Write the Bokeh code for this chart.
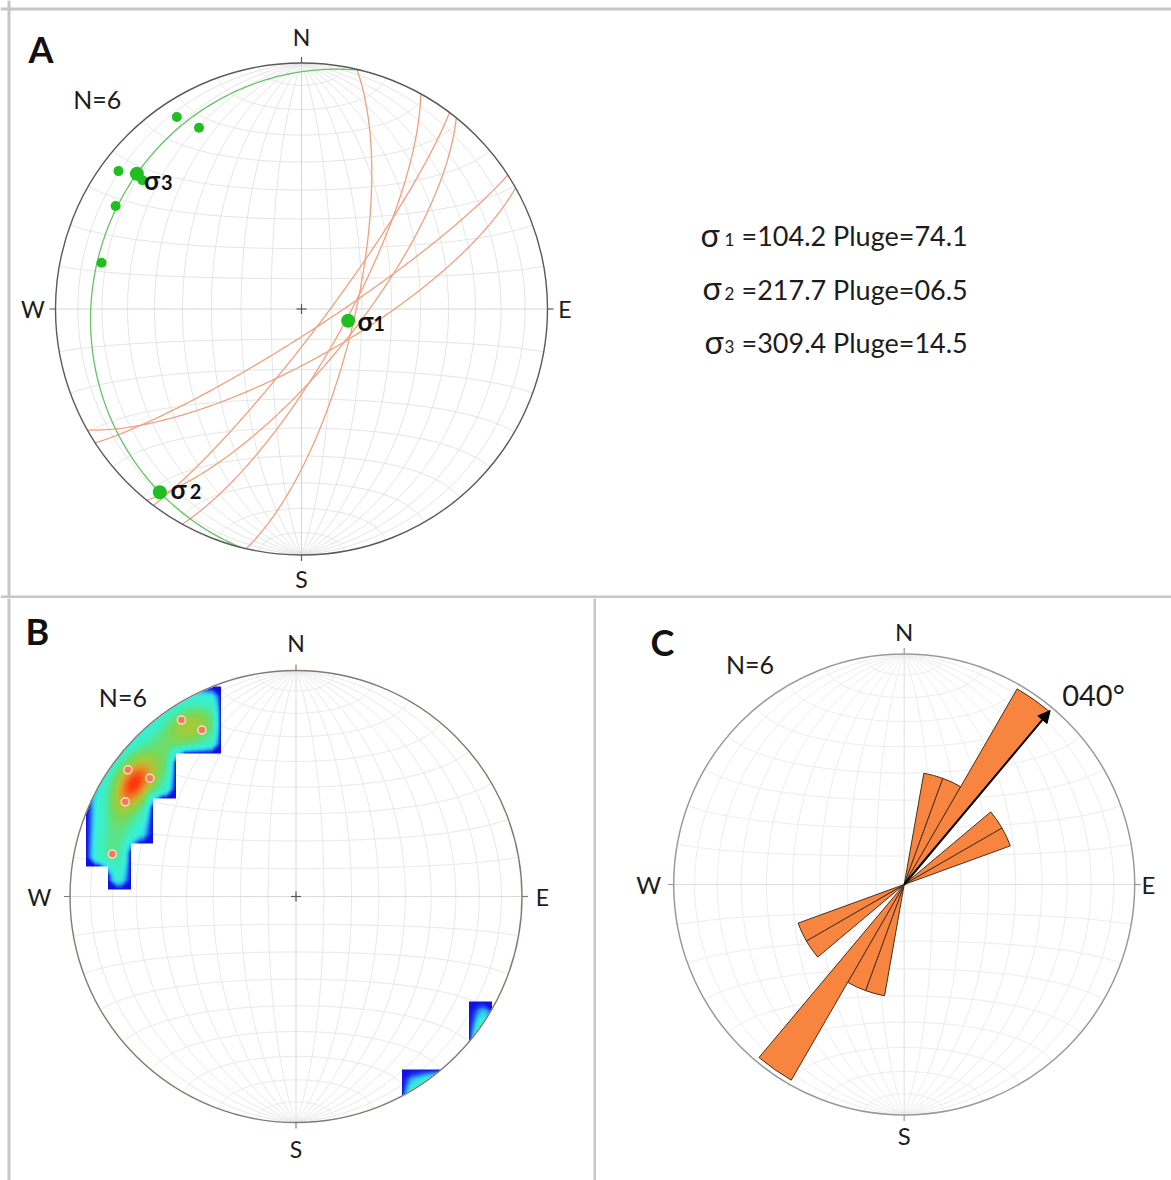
import numpy as np
from bokeh.plotting import figure
from bokeh.layouts import column, row
from bokeh.models import Range1d, Span, LinearColorMapper, Arrow, NormalHead
from bokeh.core.properties import value
from bokeh.embed import file_html
from bokeh.resources import INLINE

# ---------------- data ----------------
plane_dipdir = [147.0, 150.5, 127.0, 129.0, 119.0, 103.0]   # dip direction of the 6 planes
plane_dip = [82.3, 73.5, 82.4, 72.1, 75.3, 72.3]            # dip of the 6 planes
sigma_labels = ["1", "2", "3"]
sigma_trend = [104.2, 217.7, 309.4]
sigma_plunge = [74.1, 6.5, 14.5]
mean_strike = 40.0
rose_bin_width = 10
compass_labels = ["N", "E", "S", "W"]
compass_azimuth = [0.0, 90.0, 180.0, 270.0]
net_step = 10

FONT = value("Lato")
TXT = "#1c1c1c"
BORDER = "#c6c6c6"
MID = 0.38  # em-middle above baseline


# ---------------- projection helpers (equal-area, lower hemisphere) ----------------
def line_vec(trend, plunge):
    t = np.radians(trend)
    pl = np.radians(plunge)
    return np.array([np.sin(t) * np.cos(pl), np.cos(t) * np.cos(pl), -np.sin(pl)])


def project(v):
    e, n, u = v
    u = np.minimum(u, 0.0)
    f = 1.0 / np.sqrt(1.0 - u)
    return e * f, n * f


def great_circle(pole, num=241):
    n = pole / np.linalg.norm(pole)
    s = np.array([n[1], -n[0], 0.0])
    if np.linalg.norm(s) < 1e-9:
        s = np.array([1.0, 0.0, 0.0])
    s = s / np.linalg.norm(s)
    b = np.cross(n, s)
    if b[2] > 0:
        b = -b
    a = np.linspace(0, np.pi, num)
    v = np.outer(s, np.cos(a)) + np.outer(b, np.sin(a))
    return project(v)


def small_circle_ns(c_deg, sign, num=181):
    c = np.radians(c_deg)
    phi = np.linspace(0, np.pi, num)
    ax = np.array([0.0, sign, 0.0])
    v = (np.cos(c) * ax[:, None]
         + np.sin(c) * (np.outer([1.0, 0.0, 0.0], np.cos(phi)) + np.outer([0.0, 0.0, -1.0], np.sin(phi))))
    return project(v)


pole_trend = [(d + 180.0) % 360.0 for d in plane_dipdir]
pole_plunge = [90.0 - d for d in plane_dip]
poles = np.array([line_vec(t, p) for t, p in zip(pole_trend, pole_plunge)])
pole_x, pole_y = project(poles.T)
sig_vecs = np.array([line_vec(t, p) for t, p in zip(sigma_trend, sigma_plunge)])
sig_x, sig_y = project(sig_vecs.T)


# ---------------- panel helpers ----------------
def make_panel(w, h, left, top, cx, cy, R):
    fx, fy = cx - left, cy - top
    p = figure(width=w, height=h,
               x_range=Range1d(-fx / R, (w - fx) / R),
               y_range=Range1d(-(h - fy) / R, fy / R),
               x_axis_type=None, y_axis_type=None, toolbar_location=None,
               output_backend="svg", min_border=0, outline_line_color=None,
               background_fill_color="white", border_fill_color="white")

    def to_data(px, py):
        return (px - cx) / R, (cy - py) / R
    return p, to_data


def add_text(p, to_data, px, py_mid, txt, size, bold=False, align="left", color=TXT):
    x, y = to_data(px, py_mid)
    p.text(x=[x], y=[y], text=[txt], text_font=FONT, text_font_size=f"{size}px",
           text_font_style="bold" if bold else "normal", text_align=align,
           text_baseline="middle", text_color=color)


def add_border(p, to_data, xs=(), ys=()):
    for px in xs:
        p.add_layout(Span(location=to_data(px, 0)[0], dimension="height",
                          line_color=BORDER, line_width=3))
    for py in ys:
        p.add_layout(Span(location=to_data(0, py)[1], dimension="width",
                          line_color=BORDER, line_width=3))


def draw_net(p, R, grid_color, axis_color):
    xs, ys = [], []
    for d in range(net_step, 90, net_step):
        for tr in (90.0, 270.0):
            x, y = great_circle(line_vec(tr, 90.0 - d))
            xs.append(x)
            ys.append(y)
        for sg in (1.0, -1.0):
            x, y = small_circle_ns(d, sg)
            xs.append(x)
            ys.append(y)
    p.multi_line(xs, ys, line_color=grid_color, line_width=1)
    axx, axy = [], []
    for tr in (90.0, 0.0):
        x, y = great_circle(line_vec(tr, 0.0))
        axx.append(x)
        axy.append(y)
    p.multi_line(axx, axy, line_color=axis_color, line_width=1)


def draw_rim(p, R, rim_color, rim_width, tick_px=6):
    p.circle(x=[0.0], y=[0.0], radius=1.0, fill_color=None, line_color=rim_color,
             line_width=rim_width)
    az = np.radians(compass_azimuth)
    t = tick_px / R
    p.segment(x0=np.sin(az), y0=np.cos(az), x1=np.sin(az) * (1 + t), y1=np.cos(az) * (1 + t),
              line_color=rim_color, line_width=1.2)


def draw_cross(p, R, half_px=5, color="#555555"):
    h = half_px / R
    p.segment(x0=[-h, 0.0], y0=[0.0, -h], x1=[h, 0.0], y1=[0.0, h], line_color=color, line_width=1.2)


def draw_compass(p, R, offsets, size):
    for lab, az, off in zip(compass_labels, compass_azimuth, offsets):
        r = 1 + off / R
        x = r * np.sin(np.radians(az))
        y = r * np.cos(np.radians(az))
        p.text(x=[x], y=[y], text=[lab], text_font=FONT, text_font_size=f"{size}px",
               text_align="center", text_baseline="middle", text_color=TXT)


n_text = f"N={len(plane_dip)}"

# ================= Panel A =================
RA = 246.0
pA, tdA = make_panel(1171, 598, 0, 0, 301.0, 308.5, RA)
draw_net(pA, RA, "#e4e4e4", "#d2d2d2")
gx, gy = [], []
for pv in poles:
    x, y = great_circle(pv)
    gx.append(x)
    gy.append(y)
pA.multi_line(gx, gy, line_color="#f2a07c", line_width=1.3)
x, y = great_circle(sig_vecs[0])
pA.line(x, y, line_color="#62c462", line_width=1.3)
draw_rim(pA, RA, "#5a5a5a", 1.4)
draw_cross(pA, RA)
pA.scatter(pole_x, pole_y, size=10, fill_color="#1fbf1f", line_color=None)
pA.scatter(sig_x, sig_y, size=14, fill_color="#1fbf1f", line_color=None)
# sigma labels (offsets in screen px: sigma glyph dx, baseline dy, digit dx)
sig_lab_off = [(9.3, 10.0, 25.0), (10.7, 6.5, 29.8), (7.0, 16.4, 24.0)]
for sx, sy, lab, (dx, dy, ddx) in zip(sig_x, sig_y, sigma_labels, sig_lab_off):
    pA.text(x=[sx + dx / RA], y=[sy - (dy - MID * 26) / RA], text=["σ"], text_font=FONT,
            text_font_size="26px", text_font_style="bold", text_align="left",
            text_baseline="middle", text_color="#111111")
    pA.text(x=[sx + ddx / RA], y=[sy - (dy - MID * 20) / RA], text=[lab], text_font=FONT,
            text_font_size="20px", text_font_style="bold", text_align="left",
            text_baseline="middle", text_color="#111111")
draw_compass(pA, RA, [26.5, 17.5, 23.5, 22.5], 23)
add_text(pA, tdA, 28, 48.5, "A", 36, bold=True, color="#111111")
add_text(pA, tdA, 72.7, 98, n_text, 25)
row_center = [236.0, 289.5, 343.0]
row_sig_x = [700.0, 702.0, 704.0]
for lab, tr, pl, cyr, sxp in zip(sigma_labels, sigma_trend, sigma_plunge, row_center, row_sig_x):
    base = cyr + 0.36 * 27
    add_text(pA, tdA, sxp, base - MID * 32, "σ", 32)
    add_text(pA, tdA, 724.0, base - MID * 17, lab, 17)
    add_text(pA, tdA, 741.0, base - MID * 27, f"={tr:.1f} Pluge={pl:04.1f}", 27)
add_border(pA, tdA, xs=(8.5,), ys=(8.5, 596.5))

# ================= Panel B =================
RB = 226.0
pB, tdB = make_panel(596, 582, 0, 598, 295.5, 896.0, RB)
draw_net(pB, RB, "#e8e8e8", "#d8d8d8")


def sphere_density(X, Y, k):
    r = np.sqrt(X ** 2 + Y ** 2)
    s = np.where(r > 1, 1.0 / np.maximum(r, 1e-12), 1.0)
    Xs, Ys = X * s, Y * s
    u = np.minimum(r ** 2, 1.0) - 1.0
    f = np.sqrt(1.0 - u)
    V = np.stack([Xs * f, Ys * f, u], -1)
    c = V @ poles.T
    return (np.exp(k * (c - 1.0)) + np.exp(k * (-c - 1.0))).sum(-1)


def planar_density(X, Y, sig):
    tot = np.zeros_like(X)
    for px, py in zip(pole_x, pole_y):
        r = np.hypot(px, py)
        vx, vy = -px / r * (2 - r), -py / r * (2 - r)   # wrapped (antipodal) image beyond the rim
        tot += np.exp(-((X - px) ** 2 + (Y - py) ** 2) / (2 * sig ** 2))
        tot += np.exp(-((X - vx) ** 2 + (Y - vy) ** 2) / (2 * sig ** 2))
    return tot


def box_blur(a, rad):
    ker = np.ones(2 * rad + 1) / (2 * rad + 1)
    a = np.apply_along_axis(lambda m: np.convolve(m, ker, mode="same"), 0, a)
    return np.apply_along_axis(lambda m: np.convolve(m, ker, mode="same"), 1, a)


n_fine = 452
g = np.linspace(-1, 1, n_fine)
X, Y = np.meshgrid(g, g)
# blocky contour extent: density tested at coarse cell centres (rim cells tested just inside)
cs, x_off, y_off = 0.1, -0.732, 0.633
CX = x_off + (np.floor((X - x_off) / cs) + 0.5) * cs
CY = y_off + (np.floor((Y - y_off) / cs) + 0.5) * cs
rc = np.hypot(CX, CY)
shrink = np.where(rc > 0.97, 0.97 / np.maximum(rc, 1e-12), 1.0)
cell_mask = planar_density(CX * shrink, CY * shrink, 19.0 / RB) > 0.345
inside = X ** 2 + Y ** 2 <= 1.0
mask = inside & cell_mask
edge = np.clip((box_blur(cell_mask.astype(float), 9) - 0.5) / 0.5, 0, 1)
dcol = sphere_density(X, Y, 60.0)
lo_v = float(dcol[mask].min())
val = lo_v + edge * (dcol - lo_v)
img = np.where(mask, val, np.nan)

anchors = [(0.0, "#1010e0"), (0.04, "#1e46f0"), (0.09, "#2a96f2"), (0.15, "#30d0ee"),
           (0.24, "#36f0d8"), (0.42, "#40eebc"), (0.55, "#5ee282"), (0.66, "#80d650"),
           (0.77, "#aac83a"), (0.87, "#e09a2a"), (0.94, "#f46a1e"), (1.0, "#ff3410")]


def hex2rgb(h):
    return np.array([int(h[i:i + 2], 16) for i in (1, 3, 5)], dtype=float)


pos = np.array([a[0] for a in anchors])
cols = np.array([hex2rgb(a[1]) for a in anchors])
pal = []
for t_ in np.linspace(0, 1, 256):
    rgb = [np.interp(t_, pos, cols[:, j]) for j in range(3)]
    pal.append("#%02x%02x%02x" % tuple(int(round(v)) for v in rgb))
mapper = LinearColorMapper(palette=pal, low=lo_v, high=float(np.nanmax(img)),
                           nan_color=(0, 0, 0, 0))
pB.image(image=[img], x=-1, y=-1, dw=2, dh=2, color_mapper=mapper)
draw_rim(pB, RB, "#857870", 1.4)
draw_cross(pB, RB)
pB.scatter(pole_x, pole_y, size=8, fill_color="#f07a5a", line_color="#ffd9c8", line_width=1.5)
draw_compass(pB, RB, [27.2, 20.3, 26.5, 30.6], 23)
add_text(pB, tdB, 25, 630.7, "B", 36, bold=True, color="#111111")
add_text(pB, tdB, 98.3, 696, n_text, 25)
add_border(pB, tdB, xs=(8.5, 594.5))

# ================= Panel C =================
RC = 230.5
pC, tdC = make_panel(575, 582, 596, 598, 903.7, 884.0, RC)
draw_net(pC, RC, "#ececec", "#dcdcdc")
draw_rim(pC, RC, "#9a9a9a", 1.5)
strikes = (np.array(plane_dipdir) - 90.0) % 180.0
edges = np.arange(0, 180 + rose_bin_width, rose_bin_width)
counts, _ = np.histogram(strikes, bins=edges)
scale = 0.98 / counts.max()
sel = counts > 0
lo = edges[:-1][sel].astype(float)
hi = edges[1:][sel].astype(float)
rad = counts[sel] * scale
lo2 = np.concatenate([lo, lo + 180])
hi2 = np.concatenate([hi, hi + 180])
rad2 = np.concatenate([rad, rad])
pC.wedge(x=0.0, y=0.0, radius=rad2, start_angle=np.radians(90 - hi2), end_angle=np.radians(90 - lo2),
         fill_color="#f7843f", line_color="#4b2e1a", line_width=1)
ms = np.radians(mean_strike)
pC.add_layout(Arrow(end=NormalHead(size=12, fill_color="black", line_color="black"),
                    x_start=0.0, y_start=0.0, x_end=0.985 * np.sin(ms), y_end=0.985 * np.cos(ms),
                    line_color="black", line_width=2))
draw_compass(pC, RC, [22.3, 13.7, 20.4, 24.9], 24)
add_text(pC, tdC, 650, 641.3, "C", 36, bold=True, color="#111111")
add_text(pC, tdC, 725.4, 663.8, n_text, 25)
add_text(pC, tdC, 1061.7, 694, f"{mean_strike:03.0f}°", 29)

layout = column(pA, row(pB, pC))
open("out.html", "w").write(file_html(layout, INLINE))
